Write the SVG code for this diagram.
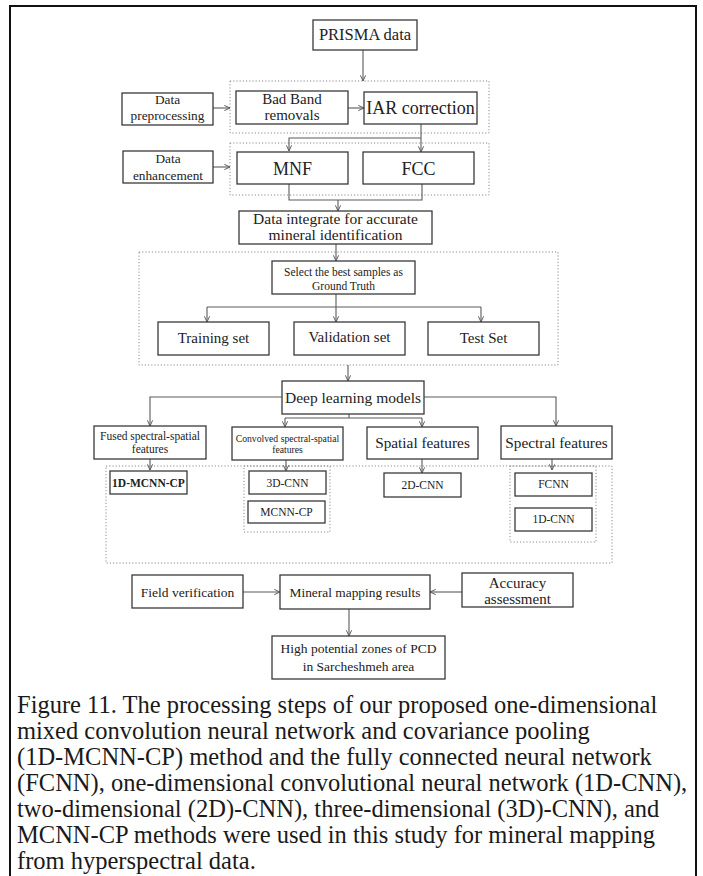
<svg xmlns="http://www.w3.org/2000/svg" width="703" height="876" viewBox="0 0 703 876">
<style>
.box{fill:#fff;stroke:#3a3a3a;stroke-width:1.3}
.dot{fill:none;stroke:#8c8c8c;stroke-width:1;stroke-dasharray:1.2 2}
.t{font-family:"Liberation Serif","Times New Roman",serif;fill:#222;text-anchor:middle}
.c{fill:none;stroke:#5a5a5a;stroke-width:1.1}
.a{marker-end:url(#ah)}
.cap{font-family:"Liberation Serif","Times New Roman",serif;fill:#1a1a1a;font-size:24.5px}
</style>
<defs>
<marker id="ah" viewBox="0 0 8 8" refX="7.5" refY="4" markerWidth="7" markerHeight="7" orient="auto" markerUnits="userSpaceOnUse">
<path d="M1,1 L7.5,4 L1,7" fill="none" stroke="#5a5a5a" stroke-width="1.1"/>
</marker>
</defs>
<rect width="703" height="876" fill="#fff"/>
<path d="M10,876 V6 H696 V876" fill="none" stroke="#111" stroke-width="2"/>

<g id="groups">
<rect class="dot" x="230" y="81" width="259" height="52"/>
<rect class="dot" x="230" y="143" width="259" height="52"/>
<rect class="dot" x="139" y="252" width="419" height="113"/>
<rect class="dot" x="106" y="466" width="506" height="97"/>
<rect class="dot" x="244" y="466" width="86" height="66"/>
<rect class="dot" x="510" y="466" width="86" height="76"/>
</g>

<g id="connectors">
<path class="c a" d="M363,50 V81"/>
<path class="c a" d="M213,108 H230"/>
<path class="c a" d="M348,108 H364"/>
<path class="c a" d="M421,124 V152"/>
<path class="c a" d="M421,138 H289 V151"/>
<path class="c a" d="M213,167 H230"/>
<path class="c" d="M289,184 V200 H422 V184"/>
<path class="c a" d="M338,200 V211"/>
<path class="c a" d="M336,244 V261"/>
<path class="c" d="M207,307 H481"/>
<path class="c a" d="M336,294 V322"/>
<path class="c a" d="M207,307 V322"/>
<path class="c a" d="M481,307 V322"/>
<path class="c a" d="M348,365 V381"/>
<path class="c a" d="M282,397 H150 V426"/>
<path class="c" d="M349,414 V418"/>
<path class="c" d="M285,418 H422"/>
<path class="c a" d="M285,418 V427"/>
<path class="c a" d="M422,418 V427"/>
<path class="c a" d="M424,397 H556 V426"/>
<path class="c a" d="M150,459 V470"/>
<path class="c a" d="M286,460 V471"/>
<path class="c a" d="M422,459 V473"/>
<path class="c a" d="M552,459 V470"/>
<path class="c a" d="M243,592 H280"/>
<path class="c a" d="M462,592 H430"/>
<path class="c a" d="M349,609 V636"/>
</g>

<g id="prisma"><rect class="box" x="313" y="20" width="104" height="30"/><text class="t" x="365" y="40" font-size="16.5">PRISMA data</text></g>
<g id="preproc"><rect class="box" x="122" y="93" width="91" height="32"/><text class="t" x="167.5" y="104" font-size="13.3">Data</text><text class="t" x="167.5" y="120" font-size="13.3">preprocessing</text></g>
<g id="badband"><rect class="box" x="236" y="91" width="112" height="33"/><text class="t" x="292" y="104" font-size="15">Bad Band</text><text class="t" x="292" y="120" font-size="15">removals</text></g>
<g id="iar"><rect class="box" x="364" y="92" width="113" height="32"/><text class="t" x="420.5" y="114" font-size="18">IAR correction</text></g>
<g id="enh"><rect class="box" x="123" y="151" width="90" height="32"/><text class="t" x="168" y="163" font-size="13.3">Data</text><text class="t" x="168" y="180" font-size="13.3">enhancement</text></g>
<g id="mnf"><rect class="box" x="237" y="152" width="111" height="32"/><text class="t" x="292.5" y="175" font-size="18">MNF</text></g>
<g id="fcc"><rect class="box" x="363" y="152" width="111" height="32"/><text class="t" x="418.5" y="175" font-size="18">FCC</text></g>
<g id="integrate"><rect class="box" x="239" y="211" width="193" height="33"/><text class="t" x="335.5" y="224" font-size="15.5">Data integrate for accurate</text><text class="t" x="335.5" y="240" font-size="15.5">mineral identification</text></g>
<g id="select"><rect class="box" x="272" y="261" width="143" height="33"/><text class="t" x="343.5" y="276" font-size="11.5">Select the best samples as</text><text class="t" x="343.5" y="290" font-size="11.5">Ground Truth</text></g>
<g id="training"><rect class="box" x="158" y="322" width="111" height="33"/><text class="t" x="213.5" y="343" font-size="15">Training set</text></g>
<g id="validation"><rect class="box" x="294" y="322" width="111" height="33"/><text class="t" x="349.5" y="342" font-size="15">Validation set</text></g>
<g id="test"><rect class="box" x="428" y="322" width="111" height="33"/><text class="t" x="483.5" y="343" font-size="15">Test Set</text></g>
<g id="deep"><rect class="box" x="282" y="381" width="142" height="33"/><text class="t" x="353" y="403" font-size="15.5">Deep learning models</text></g>
<g id="fused"><rect class="box" x="94" y="426" width="112" height="33"/><text class="t" x="150" y="440" font-size="11.5">Fused spectral-spatial</text><text class="t" x="150" y="453" font-size="11.5">features</text></g>
<g id="convolved"><rect class="box" x="232" y="427" width="111" height="33"/><text class="t" x="287.5" y="442" font-size="9.7">Convolved spectral-spatial</text><text class="t" x="287.5" y="453" font-size="9.7">features</text></g>
<g id="spatial"><rect class="box" x="367" y="427" width="111" height="32"/><text class="t" x="422.5" y="447.5" font-size="15.3">Spatial features</text></g>
<g id="spectral"><rect class="box" x="501" y="426" width="111" height="33"/><text class="t" x="556.5" y="447.5" font-size="15.3">Spectral features</text></g>
<g id="mcnn1d"><rect class="box" x="110" y="471" width="77" height="23"/><text class="t" x="148.5" y="487" font-size="11.5" font-weight="bold">1D-MCNN-CP</text></g>
<g id="cnn3d"><rect class="box" x="249" y="471" width="77" height="23"/><text class="t" x="287.5" y="487" font-size="11.5">3D-CNN</text></g>
<g id="mcnncp"><rect class="box" x="248" y="501" width="77" height="22"/><text class="t" x="286.5" y="516" font-size="11.5">MCNN-CP</text></g>
<g id="cnn2d"><rect class="box" x="384" y="473" width="77" height="24"/><text class="t" x="422.5" y="489" font-size="11.5">2D-CNN</text></g>
<g id="fcnn"><rect class="box" x="515" y="473" width="77" height="23"/><text class="t" x="553.5" y="488" font-size="11.5">FCNN</text></g>
<g id="cnn1d"><rect class="box" x="515" y="508" width="77" height="23"/><text class="t" x="553.5" y="523" font-size="11.5">1D-CNN</text></g>
<g id="field"><rect class="box" x="132" y="575" width="111" height="33"/><text class="t" x="187.5" y="597" font-size="13.5">Field verification</text></g>
<g id="mineral"><rect class="box" x="280" y="575" width="150" height="34"/><text class="t" x="355" y="597" font-size="13.4">Mineral mapping results</text></g>
<g id="accuracy"><rect class="box" x="462" y="573" width="111" height="34"/><text class="t" x="517.5" y="588" font-size="15">Accuracy</text><text class="t" x="517.5" y="604" font-size="15">assessment</text></g>
<g id="high"><rect class="box" x="272" y="636" width="173" height="43"/><text class="t" x="358.5" y="653" font-size="13.5">High potential zones of PCD</text><text class="t" x="358.5" y="671" font-size="13.5">in Sarcheshmeh area</text></g>

<g id="caption">
<text class="cap" x="17" y="713">Figure 11. The processing steps of our proposed one-dimensional</text>
<text class="cap" x="17" y="739">mixed convolution neural network and covariance pooling</text>
<text class="cap" x="17" y="765">(1D-MCNN-CP) method and the fully connected neural network</text>
<text class="cap" x="17" y="791">(FCNN), one-dimensional convolutional neural network (1D-CNN),</text>
<text class="cap" x="17" y="817">two-dimensional (2D)-CNN), three-dimensional (3D)-CNN), and</text>
<text class="cap" x="17" y="843">MCNN-CP methods were used in this study for mineral mapping</text>
<text class="cap" x="17" y="869">from hyperspectral data.</text>
</g>
</svg>
